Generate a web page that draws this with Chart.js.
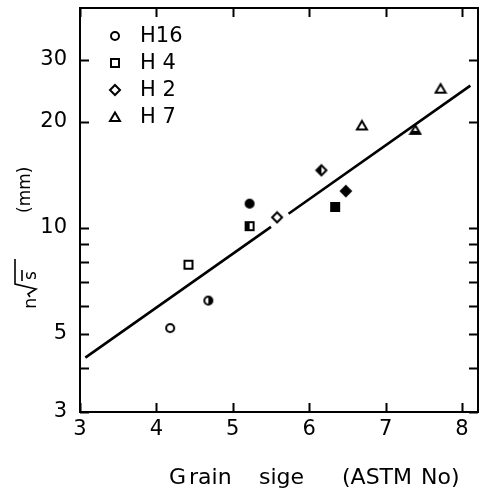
<!DOCTYPE html>
<html>
<head>
<meta charset="utf-8">
<script src="https://cdn.jsdelivr.net/npm/chart.js@4"></script>
<style>
  html, body { margin: 0; padding: 0; background: #fff; }
  #wrap { width: 483px; height: 490px; position: relative; }
</style>
</head>
<body>
<div id="wrap"><canvas id="c"></canvas></div>
<script>
// ---- data ----
const xTickValues = [3, 4, 5, 6, 7, 8];
const yTickValues = [3, 4, 5, 6, 7, 8, 9, 10, 20, 30];
const yLabelValues = [3, 5, 10, 20, 30];

const seriesNames = ['H16', 'H 4', 'H 2', 'H 7'];

const h16X = [4.18, 4.68, 5.22];
const h16Y = [5.19, 6.21, 11.7];
const h4X = [4.42, 5.22, 6.34];
const h4Y = [7.85, 10.1, 11.45];
const h2X = [5.58, 6.16, 6.48];
const h2Y = [10.7, 14.55, 12.7];
const h7X = [6.69, 7.39, 7.72];
const h7Y = [19.5, 18.95, 24.8];

const fitX = [3.07, 5.50, 5.61, 5.73, 8.11];
const fitY = [4.28, 10.05, null, 10.95, 25.3];

// ---- marker images ----
function makeMarker(shape, fill) {
  const s = 14, c = document.createElement('canvas');
  c.width = s; c.height = s;
  const g = c.getContext('2d');
  const m = s / 2;
  function path() {
    g.beginPath();
    if (shape === 'circle') { g.arc(m, m, 4, 0, Math.PI * 2); }
    else if (shape === 'square') { g.rect(m - 4, m - 4, 8, 8); }
    else if (shape === 'diamond') { g.moveTo(m, m - 5); g.lineTo(m + 5, m); g.lineTo(m, m + 5); g.lineTo(m - 5, m); g.closePath(); }
    else if (shape === 'triangle') { g.moveTo(m, m - 4.5); g.lineTo(m + 5, m + 4); g.lineTo(m - 5, m + 4); g.closePath(); }
  }
  path();
  g.fillStyle = '#fff'; g.fill();
  if (fill === 'full') { g.fillStyle = '#000'; g.fill(); }
  else if (fill === 'half') {
    g.save(); path(); g.clip();
    g.fillStyle = '#000';
    if (shape === 'circle') g.fillRect(m, 0, s, s);
    else if (shape === 'triangle') g.fillRect(0, m + 1, s, s);
    else g.fillRect(0, 0, m, s);
    g.restore();
  }
  path();
  g.lineWidth = 2; g.strokeStyle = '#000'; g.stroke();
  return c;
}

const shapes = ['circle', 'square', 'diamond', 'triangle'];
const fillStates = [
  ['open', 'half', 'full'],
  ['open', 'half', 'full'],
  ['open', 'half', 'full'],
  ['open', 'half', 'open']
];
const seriesX = [h16X, h4X, h2X, h7X];
const seriesY = [h16Y, h4Y, h2Y, h7Y];

const datasets = seriesX.map((xs, i) => ({
  label: seriesNames[i],
  data: xs.map((x, j) => ({ x: x, y: seriesY[i][j] })),
  pointStyle: fillStates[i].map(f => makeMarker(shapes[i], f)),
  showLine: false
}));

datasets.unshift({
  label: 'fit',
  data: fitX.map((x, j) => ({ x: x, y: fitY[j] })),
  showLine: true,
  spanGaps: false,
  borderColor: '#000',
  borderWidth: 2.6,
  pointRadius: 0,
  pointHoverRadius: 0
});

const FONT = 'DejaVu Sans';

const decor = {
  id: 'decor',
  afterDraw(chart) {
    const ctx = chart.ctx;
    const a = chart.chartArea;
    const xs = chart.scales.x, ys = chart.scales.y;
    ctx.save();
    ctx.strokeStyle = '#000';
    ctx.lineWidth = 2;
    ctx.strokeRect(a.left, a.top, a.right - a.left, a.bottom - a.top);
    ctx.beginPath();
    const tl = 9;
    xTickValues.forEach(v => {
      const px = Math.round(xs.getPixelForValue(v)) + 0.5;
      ctx.moveTo(px, a.bottom); ctx.lineTo(px, a.bottom - tl);
      ctx.moveTo(px, a.top); ctx.lineTo(px, a.top + tl);
    });
    yTickValues.forEach(v => {
      const py = Math.round(ys.getPixelForValue(v)) + 0.5;
      ctx.moveTo(a.left, py); ctx.lineTo(a.left + tl, py);
      ctx.moveTo(a.right, py); ctx.lineTo(a.right - tl, py);
    });
    ctx.stroke();

    // legend
    ctx.fillStyle = '#000';
    ctx.font = '21px "' + FONT + '"';
    ctx.textBaseline = 'middle';
    ctx.textAlign = 'left';
    const rows = [36, 63, 90, 117];
    seriesNames.forEach((n, i) => {
      const img = makeMarker(shapes[i], 'open');
      ctx.drawImage(img, 115 - img.width / 2, rows[i] - img.height / 2);
      ctx.fillText(n, 140, rows[i] + 1);
    });

    // x title (words placed as spaced in the reference)
    ctx.textBaseline = 'alphabetic';
    ctx.font = '22px "' + FONT + '"';
    ctx.fillText('G', 169, 484);
    ctx.fillText('rain', 189, 484);
    ctx.fillText('sige', 259, 484);
    ctx.fillText('(ASTM', 342, 484);
    ctx.fillText('No)', 421, 484);

    // y title (rotated)
    ctx.save();
    ctx.translate(36, 309);
    ctx.rotate(-Math.PI / 2);
    ctx.font = '18px "' + FONT + '"';
    ctx.textAlign = 'left';
    ctx.fillText('n', 0, 0);
    ctx.lineWidth = 1.6;
    ctx.beginPath();
    ctx.moveTo(12, -6);
    ctx.lineTo(15, -8);
    ctx.lineTo(20, 0);
    ctx.lineTo(25, -21);
    ctx.lineTo(50, -21);
    ctx.stroke();
    ctx.font = '17px "' + FONT + '"';
    ctx.fillText('s', 29, 0);
    ctx.beginPath();
    ctx.moveTo(28, -14);
    ctx.lineTo(39, -14);
    ctx.stroke();
    ctx.font = '17px "' + FONT + '"';
    ctx.fillText('(mm)', 96, -6);
    ctx.restore();

    ctx.restore();
  }
};

new Chart(document.getElementById('c'), {
  type: 'scatter',
  data: { datasets: datasets },
  options: {
    responsive: true,
    maintainAspectRatio: false,
    animation: false,
    layout: { padding: { top: 8, right: 4, left: 0, bottom: 0 } },
    plugins: { legend: { display: false }, tooltip: { enabled: false } },
    scales: {
      x: {
        type: 'linear',
        min: 3, max: 8.21,
        grid: { display: false, drawTicks: false },
        border: { display: false },
        afterBuildTicks: s => { s.ticks = xTickValues.map(v => ({ value: v })); },
        afterFit: s => { s.height = 78; s.paddingLeft = 0; s.paddingRight = 0; },
        ticks: { autoSkip: false, maxRotation: 0, padding: 5, color: '#000', font: { family: FONT, size: 21 } }
      },
      y: {
        type: 'logarithmic',
        min: 3, max: 42,
        grid: { display: false, drawTicks: false },
        border: { display: false },
        afterBuildTicks: s => { s.ticks = yTickValues.map(v => ({ value: v })); },
        afterFit: s => { s.width = 80; s.paddingTop = 0; s.paddingBottom = 0; },
        ticks: {
          autoSkip: false, padding: 13, color: '#000', font: { family: FONT, size: 21 },
          callback: v => yLabelValues.includes(v) ? String(v) : ''
        }
      }
    }
  },
  plugins: [decor]
});
</script>
</body>
</html>
